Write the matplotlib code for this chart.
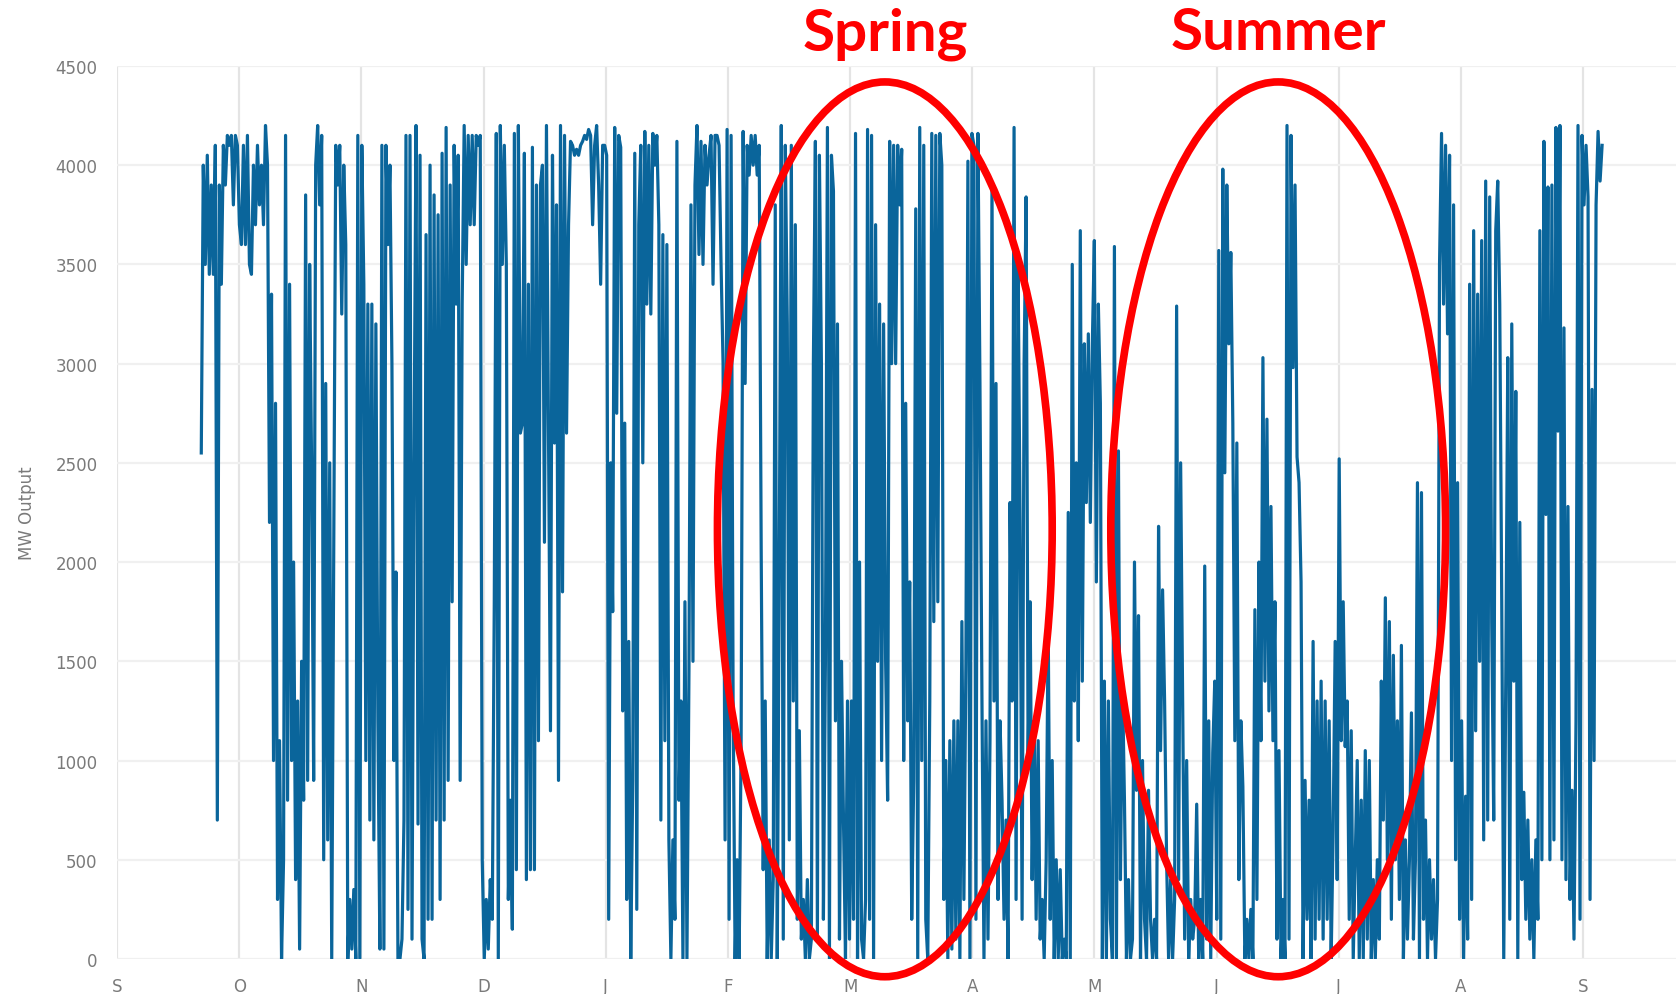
import numpy as np
import matplotlib.pyplot as plt
from matplotlib.patches import Ellipse

# MW output, two samples per day (every 12 h),
# first sample ~21 days after the "S" tick
sep_mw = [2550, 4000, 3500, 4050, 3450, 3900, 3450, 4100, 700, 3900,
          3400, 4100, 3900, 4150, 4100, 4150, 3800, 4150, 4100]
oct_mw = [3700, 3600, 4100, 3600, 4150, 3500, 3450, 4000, 3700, 4100,
          3800, 4000, 3700, 4200, 4000, 2200, 3350, 1000, 2800, 300,
          1100, 0, 500, 4150, 800, 3400, 1000, 2000, 400, 1300,
          50, 1500, 800, 3850, 900, 3500, 2450, 900, 4000, 4200,
          3800, 4150, 500, 2900, 600, 2500, 0, 2000, 4100, 3900,
          4100, 3250, 4000, 3600, 0, 300, 50, 350, 0, 4150, 0]
nov_mw = [4100, 3400, 1000, 3300, 700, 3300, 600, 3200, 1200, 50,
          4100, 50, 4100, 3600, 4000, 3000, 1000, 1950, 0, 0,
          100, 700, 4150, 250, 4150, 100, 2500, 4200, 680, 4050,
          100, 0, 3650, 200, 4000, 200, 3850, 700, 3750, 300,
          4060, 700, 4190, 900, 3900, 1800, 4100, 3300, 4050, 900,
          3300, 4200, 3500, 4150, 3700, 4150, 3700, 4150, 4100,
          4150, 500]
dec_mw = [0, 300, 50, 400, 200, 1800, 4160, 0, 4200, 3500,
          4100, 3500, 300, 800, 150, 4160, 450, 4200, 2650, 2700,
          4060, 400, 3400, 450, 4090, 450, 3900, 1100, 3900, 4000,
          2100, 4200, 2700, 1150, 4050, 2600, 3800, 900, 4200, 1850,
          4150, 2650, 3700, 4120, 4100, 4050, 4080, 4050, 4100, 4120,
          4150, 4130, 4180, 4150, 3700, 4100, 4200, 3900, 3400, 4100,
          4100]
jan_mw = [4050, 200, 2500, 1750, 4190, 2750, 4150,
          4090, 1250, 2700, 300, 1600, 0, 900, 4060, 250, 3700,
          4100, 2500, 4170, 3300, 4100, 3250, 4160, 4000, 4150, 3700,
          700, 3650, 1100, 3600, 600, 0, 600, 200, 4120, 800,
          1300, 0, 1800, 0, 1450, 3800, 1500, 3900, 4200, 3550,
          4120, 3500, 4100, 3900, 4050, 4150, 3400, 4150, 4150, 4100,
          3500, 3000, 600, 4180]
feb_mw = [200, 4150, 1300, 0, 500, 0, 1100, 4170, 2900, 4100,
          3950, 4150, 4000, 4150, 3950, 4100,
          2050, 450, 1300, 0, 600, 0, 400, 3800, 0, 2000,
          4200, 100, 4100, 3200, 600, 4100, 1300, 3700, 200, 1150,
          100, 300, 0, 400, 0, 100, 3000, 4120, 100, 4050,
          3000, 200, 1500, 4190, 0, 4050, 3870, 1200, 3200, 100,
          1500, 700, 0, 1300, 100]
mar_mw = [1300, 200, 4160, 0, 2000, 100, 0, 300, 4180, 200,
          4150, 0, 3700, 1500, 3300, 1000, 3200, 1500, 800, 4120,
          3000, 4100, 3000, 4100, 3800,
          4080, 1000, 2800, 1200, 1900, 200, 900, 3780, 0, 4190,
          1000, 4100, 200, 0, 1300, 4160, 1700, 4150, 1800, 4160,
          4000, 300, 1000, 0, 1100, 50, 1200, 100, 1200, 0,
          1700, 300, 1500, 4020, 0, 4160]
apr_mw = [4100, 200, 4160, 2900, 1300, 0, 1200, 100, 1100, 3900,
          1300, 2900, 300, 1200, 800, 200, 700, 0, 2300, 1300,
          4190, 300, 3500, 2200, 200, 3000, 3840, 1000, 1800, 400,
          1200, 200, 1100, 100,
          300, 0, 500, 1700, 200, 1000, 0, 500, 0, 450,
          0, 100, 0, 2250, 0, 3500, 1300, 2500, 1100, 3670,
          1400, 3100, 2300, 3150, 2200, 3100, 3620]
may_mw = [1900, 3300, 2800, 0, 1400, 0, 1300, 200, 0, 3590,
          0, 2560, 400, 1400, 800, 0, 400, 0, 100, 2000,
          850, 1730, 0, 1000, 200, 0, 850, 200, 0, 200,
          0, 2180, 1050, 1860, 1300, 500, 0, 400, 0, 300,
          3290, 400, 2500,
          1300, 100, 1000, 0, 300, 100, 200, 780, 0, 300,
          0, 1980, 100, 1200, 0, 1040, 1400, 200]
jun_mw = [3570, 100, 3980, 2450, 3900, 3100, 3560, 2700, 1100, 2600,
          400, 1200, 870, 0, 200, 0, 250, 0, 1760, 300,
          2000, 1100, 3030, 1400, 2720, 1250, 2280, 1100, 1800, 100,
          1050, 0, 300, 0, 4200, 100, 4150, 2980, 3900, 2530,
          2400, 1900, 0, 900, 200, 800, 0, 1600, 100, 1300,
          200, 1400,
          100, 1300, 200, 1200, 0, 650, 1600, 400, 2520]
jul_mw = [1100, 1800, 1070, 1300, 200, 1150, 0, 500, 1000, 0,
          800, 0, 1050, 100, 1000, 0, 400, 0, 500, 100,
          1400, 700, 1820, 500, 1700, 200, 1530, 500, 1200, 300,
          1580, 0, 600, 100, 500, 1240, 100, 500, 2400, 0,
          2350, 200, 700, 0, 500, 100, 400, 0, 300, 3500,
          4160, 3300, 4100, 3150, 4050, 1000, 3800, 500, 2400, 200,
          1200]
aug_mw = [0, 820, 100, 3400, 300, 3670, 1150, 3350, 1500, 3620,
          600, 3920, 700, 3840, 1700, 700, 3670, 3920, 3300, 1800,
          0, 1400, 3030, 200, 3200, 1400, 2860, 0, 2200, 400,
          840, 200, 700, 100, 500, 0, 600, 200, 3670, 500,
          4120, 2240, 3890, 500, 3900, 600, 4190, 2660, 4200, 500,
          3180, 400, 2280, 300, 850, 100, 1200, 4200, 200, 4150,
          3800]
sep2_mw = [4100, 3840, 300, 2870, 1000, 3800, 4170, 3920, 4100]

month_labels = ['S', 'O', 'N', 'D', 'J', 'F', 'M', 'A', 'M', 'J', 'J', 'A', 'S']
y_ticks = [0, 500, 1000, 1500, 2000, 2500, 3000, 3500, 4000, 4500]

start_day = 21.0
step_day = 0.5
month_len = 30.44

line_color = '#0a659b'
red = '#ff0000'


def draw_chart():
	mw = np.concatenate([sep_mw, oct_mw, nov_mw, dec_mw, jan_mw, feb_mw, mar_mw,
	                     apr_mw, may_mw, jun_mw, jul_mw, aug_mw, sep2_mw])
	days = start_day + step_day * np.arange(len(mw))

	fig = plt.figure(figsize=(16.76, 9.95), dpi=100)
	ax = fig.add_axes([0.0698, 0.0352, 0.9302, 0.8975])

	ax.plot(days, mw, color=line_color, lw=2.3)

	ax.set_xlim(0, 12.76 * month_len)
	ax.set_ylim(0, 4500)
	ax.set_xticks([i * month_len for i in range(len(month_labels))])
	ax.set_xticklabels(month_labels)
	ax.set_yticks(y_ticks)

	for s in ax.spines.values():
		s.set_visible(False)
	ax.set_axisbelow(True)
	ax.grid(axis='x', color='#e4e4e4', lw=1.6)
	ax.grid(axis='y', color='#f0f0f0', lw=1.6)
	ax.tick_params(axis='both', length=0, labelsize=12, labelcolor='#7a7a7a')
	ax.tick_params(axis='y', pad=14)
	ax.tick_params(axis='x', pad=13)

	ax.set_ylabel('MW Output', fontsize=12, color='#7a7a7a')
	ax.yaxis.set_label_coords(-0.052, 0.5)

	# seasonal highlights
	for cx, name in [(191.3, 'Spring'), (289.3, 'Summer')]:
		e = Ellipse((cx, 2165), width=83.4, height=4509, fill=False,
		            edgecolor=red, lw=5.5, clip_on=False, zorder=5)
		ax.add_patch(e)
		ax.text(cx, 4585, name, color=red, fontsize=42, fontweight='bold',
		        family=['Lato', 'DejaVu Sans'], ha='center', va='baseline',
		        clip_on=False, zorder=6)

	fig.savefig('out.png', dpi=100)


draw_chart()
